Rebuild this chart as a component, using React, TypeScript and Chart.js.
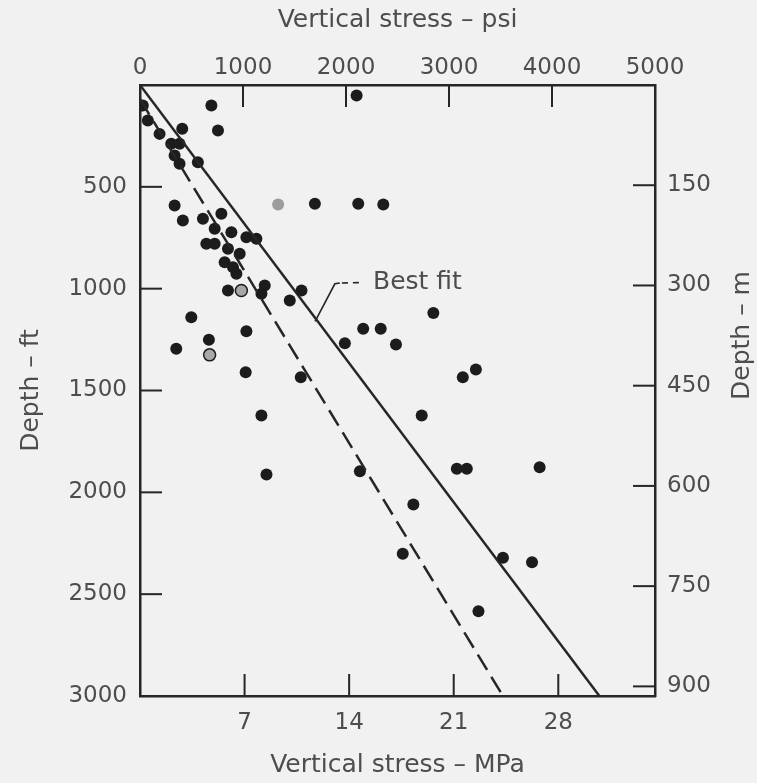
import React, { useEffect, useRef } from "react";
import { Chart, registerables } from "chart.js";

Chart.register(...registerables);

// ---- axis definitions ----
const PSI_MAX = 5000;
const FT_MAX = 3000;
const MPA_MAX = PSI_MAX * 0.00689476;
const M_MAX = FT_MAX * 0.3048;

const psiTicks = [0, 1000, 2000, 3000, 4000, 5000];
const mpaTicks = [7, 14, 21, 28];
const ftTicks = [500, 1000, 1500, 2000, 2500, 3000];
const mTicks = [150, 300, 450, 600, 750, 900];

// ---- measured points (vertical stress psi, depth ft) ----
const stressPsi = [
  693, 2103, 410, 757, 27, 76, 190, 303, 384, 336, 384, 562,
  336, 416, 1341, 1698, 2119, 2362, 790, 611, 887, 725, 644, 725,
  1033, 1130, 854, 968, 822, 903, 936, 854, 984, 1211, 1179, 1568,
  1454, 498, 2167, 2337, 1033, 669, 1989, 2485, 352, 676, 1026, 1561,
  2848, 3134, 3261, 1179, 2735, 1228, 2135, 3076, 3173, 3880, 2654, 2551,
  3524, 3806, 3286,
];
const depthFt = [
  101, 52, 215, 223, 101, 174, 240, 289, 289, 346, 387, 379,
  592, 665, 587, 583, 583, 587, 632, 657, 723, 706, 780, 780,
  747, 755, 804, 829, 870, 895, 927, 1009, 1009, 984, 1025, 1009,
  1058, 1140, 1197, 1197, 1209, 1251, 1268, 1274, 1295, 1325, 1410, 1435,
  1120, 1435, 1397, 1623, 1623, 1912, 1896, 1884, 1884, 1877, 2060, 2302,
  2321, 2343, 2584,
];
// s = solid dot, g = grey dot, h = half-open dot
const pointKind = [
  "s", "s", "s", "s", "s", "s", "s", "s", "s", "s", "s", "s",
  "s", "s", "g", "s", "s", "s", "s", "s", "s", "s", "s", "s",
  "s", "s", "s", "s", "s", "s", "s", "s", "h", "s", "s", "s",
  "s", "s", "s", "s", "s", "s", "s", "s", "s", "h", "s", "s",
  "s", "s", "s", "s", "s", "s", "s", "s", "s", "s", "s", "s",
  "s", "s", "s",
];

// ---- lines ----
const fitPsi = [0, 4460];
const fitFt = [0, 3000];
const lowerPsi = [0, 3524];
const lowerFt = [70, 3000];

// ---- "Best fit" callout ----
const leaderPsi = [1700, 1892, 1940];
const leaderFt = [1160, 976, 972];
const leaderDashPsi = [1960, 2168];
const leaderDashFt = [972, 970];
const labelText = "Best fit";
const labelPsi = 2262;
const labelFt = 968;

const BG = "#f1f1f1";
const INK = "#262626";
const TEXT = "#4d4d4d";
const FONT = "'DejaVu Sans', 'Liberation Sans', Arial, sans-serif";

const bgPlugin = {
  id: "bg",
  beforeDraw(chart: any) {
    const { ctx, width, height } = chart;
    ctx.save();
    ctx.fillStyle = BG;
    ctx.fillRect(0, 0, width, height);
    ctx.restore();
  },
};

const innerTicksPlugin = {
  id: "innerTicks",
  beforeDatasetsDraw(chart: any) {
    const { ctx, chartArea: a, scales } = chart;
    const L = 22;
    ctx.save();
    ctx.strokeStyle = INK;
    ctx.lineWidth = 2;
    const seg = (x1: number, y1: number, x2: number, y2: number) => {
      ctx.beginPath();
      ctx.moveTo(x1, y1);
      ctx.lineTo(x2, y2);
      ctx.stroke();
    };
    psiTicks.forEach((v) => {
      if (v <= 0 || v >= PSI_MAX) return;
      const x = scales.x.getPixelForValue(v);
      seg(x, a.top, x, a.top + L);
    });
    mpaTicks.forEach((v) => {
      const x = scales.x2.getPixelForValue(v);
      seg(x, a.bottom, x, a.bottom - L);
    });
    ftTicks.forEach((v) => {
      if (v >= FT_MAX) return;
      const y = scales.y.getPixelForValue(v);
      seg(a.left, y, a.left + L, y);
    });
    mTicks.forEach((v) => {
      const y = scales.y2.getPixelForValue(v);
      seg(a.right, y, a.right - L, y);
    });
    ctx.restore();
  },
};

const annotationPlugin = {
  id: "callout",
  afterDatasetsDraw(chart: any) {
    const { ctx, scales, chartArea: a } = chart;
    const px = (v: number) => scales.x.getPixelForValue(v);
    const py = (v: number) => scales.y.getPixelForValue(v);
    ctx.save();
    ctx.strokeStyle = INK;
    ctx.lineWidth = 1.6;
    ctx.beginPath();
    leaderPsi.forEach((v, i) => {
      const x = px(v);
      const y = py(leaderFt[i]);
      if (i === 0) ctx.moveTo(x, y);
      else ctx.lineTo(x, y);
    });
    ctx.stroke();
    ctx.setLineDash([6, 5]);
    ctx.beginPath();
    ctx.moveTo(px(leaderDashPsi[0]), py(leaderDashFt[0]));
    ctx.lineTo(px(leaderDashPsi[1]), py(leaderDashFt[1]));
    ctx.stroke();
    ctx.setLineDash([]);
    ctx.fillStyle = TEXT;
    ctx.font = `25px ${FONT}`;
    ctx.textAlign = "left";
    ctx.textBaseline = "middle";
    ctx.fillText(labelText, px(labelPsi), py(labelFt));

    // right axis title (reads bottom to top, sits above centre)
    ctx.save();
    ctx.translate(742, a.top + (a.bottom - a.top) * 0.41);
    ctx.rotate(-Math.PI / 2);
    ctx.textAlign = "center";
    ctx.fillText("Depth \u2013 m", 0, 0);
    ctx.restore();
    ctx.restore();
  },
};

const tickFont = { family: FONT, size: 23 };
const titleFont = { family: FONT, size: 25 };
const border = { display: true, color: INK, width: 2.5 };
const noGrid = { display: false, drawTicks: false };
const plain = (v: any) => String(v);

export default function App() {
  const ref = useRef<HTMLCanvasElement>(null);
  useEffect(() => {
    const canvas = ref.current!;
    const pts = stressPsi.map((x, i) => ({ x, y: depthFt[i] }));
    const fill = pointKind.map((k) => (k === "g" ? "#9c9c9c" : k === "h" ? "#a8a8a8" : "#1c1c1c"));
    const chart = new Chart(canvas, {
      type: "scatter",
      data: {
        datasets: [
          {
            type: "line",
            label: "Best fit",
            data: fitPsi.map((x, i) => ({ x, y: fitFt[i] })),
            borderColor: INK,
            borderWidth: 2.5,
            pointRadius: 0,
            fill: false,
            xAxisID: "x",
            yAxisID: "y",
          },
          {
            type: "line",
            label: "Lower bound",
            data: lowerPsi.map((x, i) => ({ x, y: lowerFt[i] })),
            borderColor: INK,
            borderWidth: 2.5,
            borderDash: [18, 8],
            pointRadius: 0,
            fill: false,
            xAxisID: "x",
            yAxisID: "y",
          },
          {
            type: "scatter",
            label: "Measured",
            data: pts,
            pointRadius: 6,
            pointBackgroundColor: fill,
            pointBorderColor: "#1c1c1c",
            pointBorderWidth: pointKind.map((k) => (k === "h" ? 1.5 : 0)),
            xAxisID: "x",
            yAxisID: "y",
          },
        ],
      },
      options: {
        responsive: false,
        animation: false,
        events: [],
        layout: { padding: 0 },
        plugins: {
          legend: { display: false },
          tooltip: { enabled: false },
          title: { display: false },
        },
        scales: {
          x: {
            type: "linear",
            position: "top",
            min: 0,
            max: PSI_MAX,
            afterBuildTicks: (s: any) => {
              s.ticks = psiTicks.map((v) => ({ value: v }));
            },
            afterFit: (s: any) => {
              s.height = 85;
            },
            grid: noGrid,
            border,
            ticks: { font: tickFont, color: TEXT, padding: 3, autoSkip: false, maxRotation: 0, callback: plain },
            title: {
              display: true,
              text: "Vertical stress \u2013 psi",
              font: titleFont,
              color: TEXT,
              padding: { top: 5, bottom: 0 },
            },
          },
          x2: {
            type: "linear",
            position: "bottom",
            min: 0,
            max: MPA_MAX,
            afterBuildTicks: (s: any) => {
              s.ticks = mpaTicks.map((v) => ({ value: v }));
            },
            afterFit: (s: any) => {
              s.height = 87;
            },
            grid: noGrid,
            border,
            ticks: { font: tickFont, color: TEXT, padding: 13, autoSkip: false, maxRotation: 0, callback: plain },
            title: {
              display: true,
              text: "Vertical stress \u2013 MPa",
              font: titleFont,
              color: TEXT,
              padding: { top: 0, bottom: 3 },
            },
          },
          y: {
            type: "linear",
            position: "left",
            reverse: true,
            min: 0,
            max: FT_MAX,
            afterBuildTicks: (s: any) => {
              s.ticks = ftTicks.map((v) => ({ value: v }));
            },
            afterFit: (s: any) => {
              s.width = 140;
            },
            grid: noGrid,
            border,
            ticks: { font: tickFont, color: TEXT, padding: 13, autoSkip: false, callback: plain },
            title: {
              display: true,
              text: "Depth \u2013 ft",
              font: titleFont,
              color: TEXT,
              padding: { top: 16, bottom: 0 },
            },
          },
          y2: {
            type: "linear",
            position: "right",
            reverse: true,
            min: 0,
            max: M_MAX,
            afterBuildTicks: (s: any) => {
              s.ticks = mTicks.map((v) => ({ value: v }));
            },
            afterFit: (s: any) => {
              s.width = 102;
            },
            grid: noGrid,
            border,
            ticks: { font: tickFont, color: TEXT, padding: 12, autoSkip: false, callback: plain },
          },
        },
      } as any,
      plugins: [bgPlugin, innerTicksPlugin, annotationPlugin],
    } as any);
    return () => chart.destroy();
  }, []);
  return (
    <div style={{ position: "fixed", left: 0, top: 0, width: 757, height: 783, background: BG }}>
      <canvas ref={ref} width={757} height={783} style={{ display: "block" }} />
    </div>
  );
}
